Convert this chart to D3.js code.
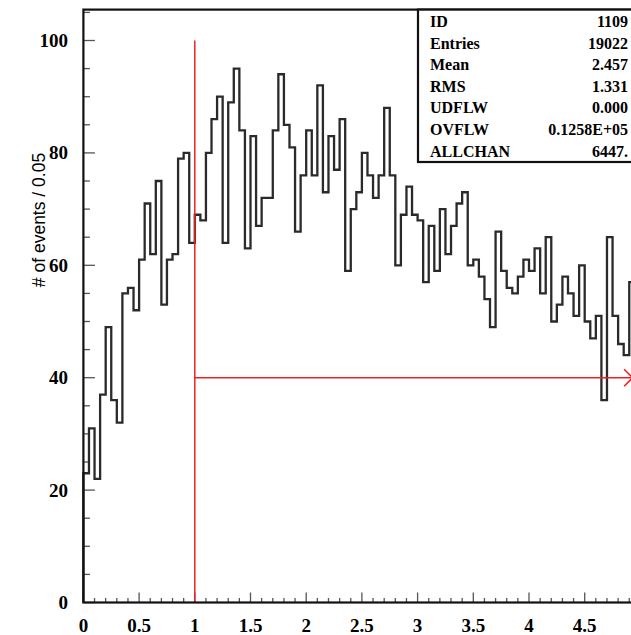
<!DOCTYPE html>
<html>
<head>
<meta charset="utf-8">
<script src="https://cdn.jsdelivr.net/npm/d3@7"></script>
<style>
    html, body { margin: 0; padding: 0; background: #fff; overflow: hidden; }
    svg { display: block; }
    .tick-label { font-family: "Liberation Serif", "DejaVu Serif", serif; font-weight: bold; font-size: 19px; fill: #000; }
    .stat-text { font-family: "Liberation Serif", "DejaVu Serif", serif; font-weight: bold; font-size: 16px; fill: #000; }
    .axis-title { font-family: "Liberation Sans", Arial, sans-serif; font-size: 17.5px; fill: #000; }
</style>
</head>
<body>
<svg id="hist-svg"></svg>
<script>
// histo.js -- PAW style histogram, 0.05 wide bins.

// ----------------------------------------------------------------------------
// Data
// ----------------------------------------------------------------------------

var binWidth = 0.05;

// Counts per bin, starting at x = 0 (last visible bin starts at 4.90).
var counts = [
    23, 31, 22, 37, 49, 36, 32, 55, 56, 52,
    61, 71, 62, 75, 53, 61, 62, 79, 80, 64,
    69, 68, 80, 86, 90, 64, 89, 95, 84, 63,
    83, 67, 72, 72, 84, 94, 85, 81, 66, 76,
    84, 76, 92, 73, 83, 77, 86, 59, 70, 73,
    80, 76, 72, 76, 88, 76, 60, 69, 74, 69,
    68, 57, 67, 59, 70, 62, 67, 71, 73, 60,
    61, 58, 54, 49, 66, 59, 56, 55, 58, 61,
    59, 63, 55, 65, 50, 53, 58, 55, 51, 60,
    50, 47, 51, 36, 65, 51, 46, 44, 57
];

var xTicks = [0, 0.5, 1, 1.5, 2, 2.5, 3, 3.5, 4, 4.5];
var xTickNames = ["0", "0.5", "1", "1.5", "2", "2.5", "3", "3.5", "4", "4.5"];
var yTicks = [0, 20, 40, 60, 80, 100];

// Red marker lines.
var cutX = 1;
var cutTopY = 100;
var levelY = 40;
var levelEndX = 4.93;

// Statistics box.
var statNames = ["ID", "Entries", "Mean", "RMS", "UDFLW", "OVFLW", "ALLCHAN"];
var statValues = ["1109", "19022", "2.457", "1.331", "0.000", "0.1258E+05", "6447."];

// ----------------------------------------------------------------------------
// Drawing
// ----------------------------------------------------------------------------

function drawHistogram() {
    var width = 631, height = 635;

    var svg = d3.select("#hist-svg")
        .attr("width", width)
        .attr("height", height);

    // plot frame runs past the right edge of the window, like the original
    var x = d3.scaleLinear().domain([0, 5]).range([83.4, 640.4]);
    var y = d3.scaleLinear().domain([0, 105.5]).range([602.5, 9.6]);

    // minor ticks
    var yMinor = d3.range(0, 106, 5);
    var xMinor = d3.range(0, 50).map(function(i) { return i / 10; });

    svg.append("g").selectAll("line").data(yMinor).enter().append("line")
        .attr("x1", x(0)).attr("x2", function(d) { return x(0) + (d % 20 === 0 ? 11.5 : 6.5); })
        .attr("y1", function(d) { return y(d); }).attr("y2", function(d) { return y(d); })
        .attr("stroke", "#555").attr("stroke-width", 1.3);

    svg.append("g").selectAll("line").data(xMinor).enter().append("line")
        .attr("x1", function(d) { return x(d); }).attr("x2", function(d) { return x(d); })
        .attr("y1", y(0)).attr("y2", function(d) { return y(0) - (Math.round(d * 10) % 5 === 0 ? 10 : 4.5); })
        .attr("stroke", "#555").attr("stroke-width", 1.3);

    // histogram outline
    var steps = [];
    counts.forEach(function(c, i) {
        steps.push([i * binWidth, c]);
        steps.push([(i + 1) * binWidth, c]);
    });
    var line = d3.line()
        .x(function(d) { return x(d[0]); })
        .y(function(d) { return y(d[1]); });
    svg.append("path")
        .datum([[0, 0]].concat(steps))
        .attr("d", line)
        .attr("fill", "none")
        .attr("stroke", "#2a2a2a")
        .attr("stroke-width", 2.3)
        .attr("stroke-linejoin", "miter");

    // red cut lines
    svg.append("line")
        .attr("x1", x(cutX)).attr("x2", x(cutX))
        .attr("y1", y(0)).attr("y2", y(cutTopY))
        .attr("stroke", "#f02020").attr("stroke-width", 1.5);
    svg.append("line")
        .attr("x1", x(cutX)).attr("x2", x(levelEndX))
        .attr("y1", y(levelY)).attr("y2", y(levelY))
        .attr("stroke", "#f02020").attr("stroke-width", 1.5);
    var mx = x(levelEndX), my = y(levelY), r = 8.5;
    svg.append("path")
        .attr("d", "M" + (mx - r) + "," + (my - r) + "L" + (mx + r) + "," + (my + r) +
                   "M" + (mx - r) + "," + (my + r) + "L" + (mx + r) + "," + (my - r))
        .attr("stroke", "#f02020").attr("stroke-width", 1.6).attr("fill", "none");

    // frame
    svg.append("rect")
        .attr("x", x(0)).attr("y", y(105.5))
        .attr("width", x(5) - x(0)).attr("height", y(0) - y(105.5))
        .attr("fill", "none").attr("stroke", "#111").attr("stroke-width", 2.2);

    // tick labels
    svg.append("g").selectAll("text").data(xTicks).enter().append("text")
        .attr("class", "tick-label")
        .attr("x", function(d) { return x(d); })
        .attr("y", 632)
        .attr("text-anchor", "middle")
        .text(function(d, i) { return xTickNames[i]; });

    svg.append("g").selectAll("text").data(yTicks).enter().append("text")
        .attr("class", "tick-label")
        .attr("x", 68)
        .attr("y", function(d) { return y(d) + 6.5; })
        .attr("text-anchor", "end")
        .text(function(d) { return d; });

    // y axis title
    svg.append("text")
        .attr("class", "axis-title")
        .attr("transform", "translate(45,220) rotate(-90)")
        .attr("text-anchor", "middle")
        .text("# of events / 0.05");

    // statistics box
    svg.append("rect")
        .attr("x", 418).attr("y", y(105.5))
        .attr("width", 240).attr("height", 162 - y(105.5))
        .attr("fill", "#fff").attr("stroke", "#111").attr("stroke-width", 2.2);

    statNames.forEach(function(name, i) {
        var by = 27 + i * 21.6;
        svg.append("text").attr("class", "stat-text")
            .attr("x", 430).attr("y", by).text(name);
        svg.append("text").attr("class", "stat-text")
            .attr("x", 628).attr("y", by).attr("text-anchor", "end").text(statValues[i]);
    });
}

// ----------------------------------------------------------------------------
// Initialization
// ----------------------------------------------------------------------------

drawHistogram();
</script>
</body>
</html>
